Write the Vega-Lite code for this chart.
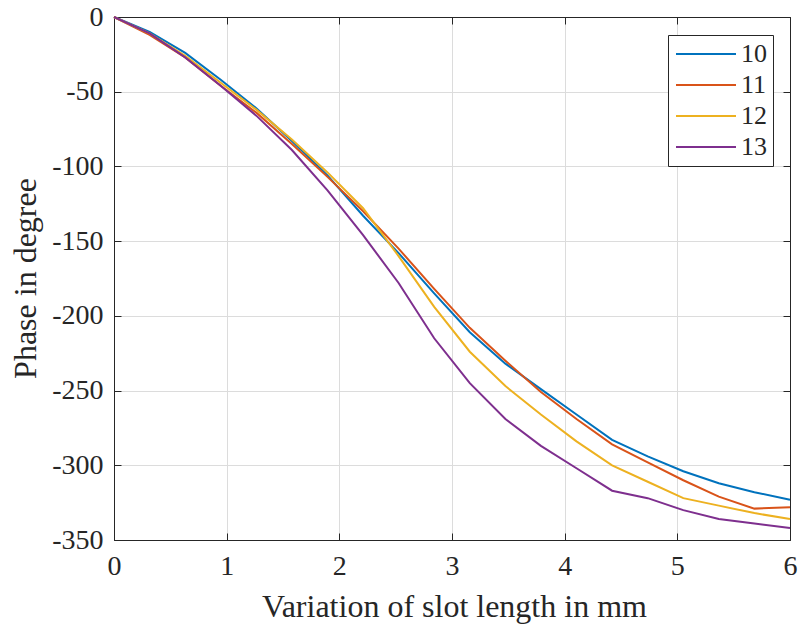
{
  "$schema": "https://vega.github.io/schema/vega-lite/v6.json",
  "width": 676,
  "height": 523,
  "autosize": "none",
  "padding": {"left": 114, "top": 17, "right": 9, "bottom": 86},
  "background": "white",
  "config": {
    "font": "Liberation Serif",
    "view": {"stroke": "#262626", "strokeWidth": 1},
    "legend": {"labelFont": "Liberation Serif"},
    "axis": {
      "domainColor": "#262626",
      "tickColor": "#262626",
      "labelColor": "#262626",
      "titleColor": "#262626",
      "gridColor": "#dcdcdc",
      "gridWidth": 1,
      "labelFont": "Liberation Serif",
      "titleFont": "Liberation Serif",
      "labelFontSize": 28,
      "titleFontSize": 32,
      "titleFontWeight": "normal",
      "tickSize": -7
    }
  },
  "data": {
    "values": [
      {"x": 0, "phase": 0, "series": "10"},
      {"x": 0.316, "phase": -10, "series": "10"},
      {"x": 0.632, "phase": -24, "series": "10"},
      {"x": 0.947, "phase": -42, "series": "10"},
      {"x": 1.263, "phase": -61, "series": "10"},
      {"x": 1.579, "phase": -83, "series": "10"},
      {"x": 1.895, "phase": -106, "series": "10"},
      {"x": 2.211, "phase": -133, "series": "10"},
      {"x": 2.526, "phase": -158, "series": "10"},
      {"x": 2.842, "phase": -185, "series": "10"},
      {"x": 3.158, "phase": -211, "series": "10"},
      {"x": 3.474, "phase": -232, "series": "10"},
      {"x": 3.789, "phase": -249, "series": "10"},
      {"x": 4.105, "phase": -266, "series": "10"},
      {"x": 4.421, "phase": -283, "series": "10"},
      {"x": 4.737, "phase": -294, "series": "10"},
      {"x": 5.053, "phase": -304, "series": "10"},
      {"x": 5.368, "phase": -312, "series": "10"},
      {"x": 5.684, "phase": -318, "series": "10"},
      {"x": 6, "phase": -323, "series": "10"},
      {"x": 0, "phase": 0, "series": "11"},
      {"x": 0.316, "phase": -12, "series": "11"},
      {"x": 0.632, "phase": -27, "series": "11"},
      {"x": 0.947, "phase": -46, "series": "11"},
      {"x": 1.263, "phase": -64, "series": "11"},
      {"x": 1.579, "phase": -85, "series": "11"},
      {"x": 1.895, "phase": -107, "series": "11"},
      {"x": 2.211, "phase": -130, "series": "11"},
      {"x": 2.526, "phase": -155, "series": "11"},
      {"x": 2.842, "phase": -182, "series": "11"},
      {"x": 3.158, "phase": -208, "series": "11"},
      {"x": 3.474, "phase": -230, "series": "11"},
      {"x": 3.789, "phase": -251, "series": "11"},
      {"x": 4.105, "phase": -269, "series": "11"},
      {"x": 4.421, "phase": -286, "series": "11"},
      {"x": 4.737, "phase": -298, "series": "11"},
      {"x": 5.053, "phase": -310, "series": "11"},
      {"x": 5.368, "phase": -321, "series": "11"},
      {"x": 5.684, "phase": -329, "series": "11"},
      {"x": 6, "phase": -328, "series": "11"},
      {"x": 0, "phase": 0, "series": "12"},
      {"x": 0.316, "phase": -11, "series": "12"},
      {"x": 0.632, "phase": -26, "series": "12"},
      {"x": 0.947, "phase": -44, "series": "12"},
      {"x": 1.263, "phase": -62, "series": "12"},
      {"x": 1.579, "phase": -82, "series": "12"},
      {"x": 1.895, "phase": -104, "series": "12"},
      {"x": 2.211, "phase": -128, "series": "12"},
      {"x": 2.526, "phase": -160, "series": "12"},
      {"x": 2.842, "phase": -194, "series": "12"},
      {"x": 3.158, "phase": -224, "series": "12"},
      {"x": 3.474, "phase": -247, "series": "12"},
      {"x": 3.789, "phase": -266, "series": "12"},
      {"x": 4.105, "phase": -284, "series": "12"},
      {"x": 4.421, "phase": -300, "series": "12"},
      {"x": 4.737, "phase": -311, "series": "12"},
      {"x": 5.053, "phase": -322, "series": "12"},
      {"x": 5.368, "phase": -327, "series": "12"},
      {"x": 5.684, "phase": -332, "series": "12"},
      {"x": 6, "phase": -336, "series": "12"},
      {"x": 0, "phase": 0, "series": "13"},
      {"x": 0.316, "phase": -11, "series": "13"},
      {"x": 0.632, "phase": -27, "series": "13"},
      {"x": 0.947, "phase": -46, "series": "13"},
      {"x": 1.263, "phase": -66, "series": "13"},
      {"x": 1.579, "phase": -89, "series": "13"},
      {"x": 1.895, "phase": -116, "series": "13"},
      {"x": 2.211, "phase": -146, "series": "13"},
      {"x": 2.526, "phase": -178, "series": "13"},
      {"x": 2.842, "phase": -215, "series": "13"},
      {"x": 3.158, "phase": -245, "series": "13"},
      {"x": 3.474, "phase": -269, "series": "13"},
      {"x": 3.789, "phase": -287, "series": "13"},
      {"x": 4.105, "phase": -302, "series": "13"},
      {"x": 4.421, "phase": -317, "series": "13"},
      {"x": 4.737, "phase": -322, "series": "13"},
      {"x": 5.053, "phase": -330, "series": "13"},
      {"x": 5.368, "phase": -336, "series": "13"},
      {"x": 5.684, "phase": -339, "series": "13"},
      {"x": 6, "phase": -342, "series": "13"}
    ]
  },
  "layer": [
    {
      "mark": {"type": "line", "strokeWidth": 2},
      "encoding": {
        "x": {
          "field": "x", "type": "quantitative",
          "scale": {"domain": [0, 6], "nice": false, "zero": false},
          "axis": {
            "values": [0, 1, 2, 3, 4, 5, 6],
            "labelExpr": "'' + datum.value",
            "labelFont": "Liberation Serif",
            "title": "Variation of slot length in mm",
            "titleX": 340, "titleY": 76, "titleBaseline": "alphabetic",
            "labelPadding": 19, "labelFlush": false,
            "grid": true
          }
        },
        "y": {
          "field": "phase", "type": "quantitative",
          "scale": {"domain": [-350, 0], "nice": false, "zero": false},
          "axis": {
            "values": [0, -50, -100, -150, -200, -250, -300, -350],
            "labelExpr": "'' + datum.value",
            "labelFont": "Liberation Serif",
            "title": "Phase in degree",
            "titleX": -89, "titleY": 261, "titleBaseline": "middle", "titleAngle": -90,
            "labelPadding": 18, "labelFlush": false,
            "grid": true
          }
        },
        "color": {
          "field": "series", "type": "nominal",
          "scale": {"domain": ["10", "11", "12", "13"], "range": ["#0072BD", "#D95319", "#EDB120", "#7E2F8E"]},
          "legend": {
            "title": null,
            "orient": "none",
            "legendX": 554,
            "legendY": 18,
            "fillColor": "white",
            "strokeColor": "#262626",
            "padding": 6,
            "symbolType": "M-3,0H3",
            "symbolSize": 400,
            "symbolStrokeWidth": 2,
            "symbolOffset": 19,
            "labelFontSize": 26,
            "labelFont": "Liberation Serif",
            "labelColor": "#262626",
            "labelOffset": 22,
            "rowPadding": 5
          }
        }
      }
    },
    {
      "mark": {"type": "line", "opacity": 0},
      "encoding": {
        "x": {
          "field": "x", "type": "quantitative",
          "axis": {"orient": "top", "values": [0, 1, 2, 3, 4, 5, 6], "labels": false, "title": null, "grid": false}
        },
        "y": {
          "field": "phase", "type": "quantitative",
          "axis": {"orient": "right", "values": [0, -50, -100, -150, -200, -250, -300, -350], "labels": false, "title": null, "grid": false}
        },
        "detail": {"field": "series"}
      }
    }
  ],
  "resolve": {"axis": {"x": "independent", "y": "independent"}}
}
